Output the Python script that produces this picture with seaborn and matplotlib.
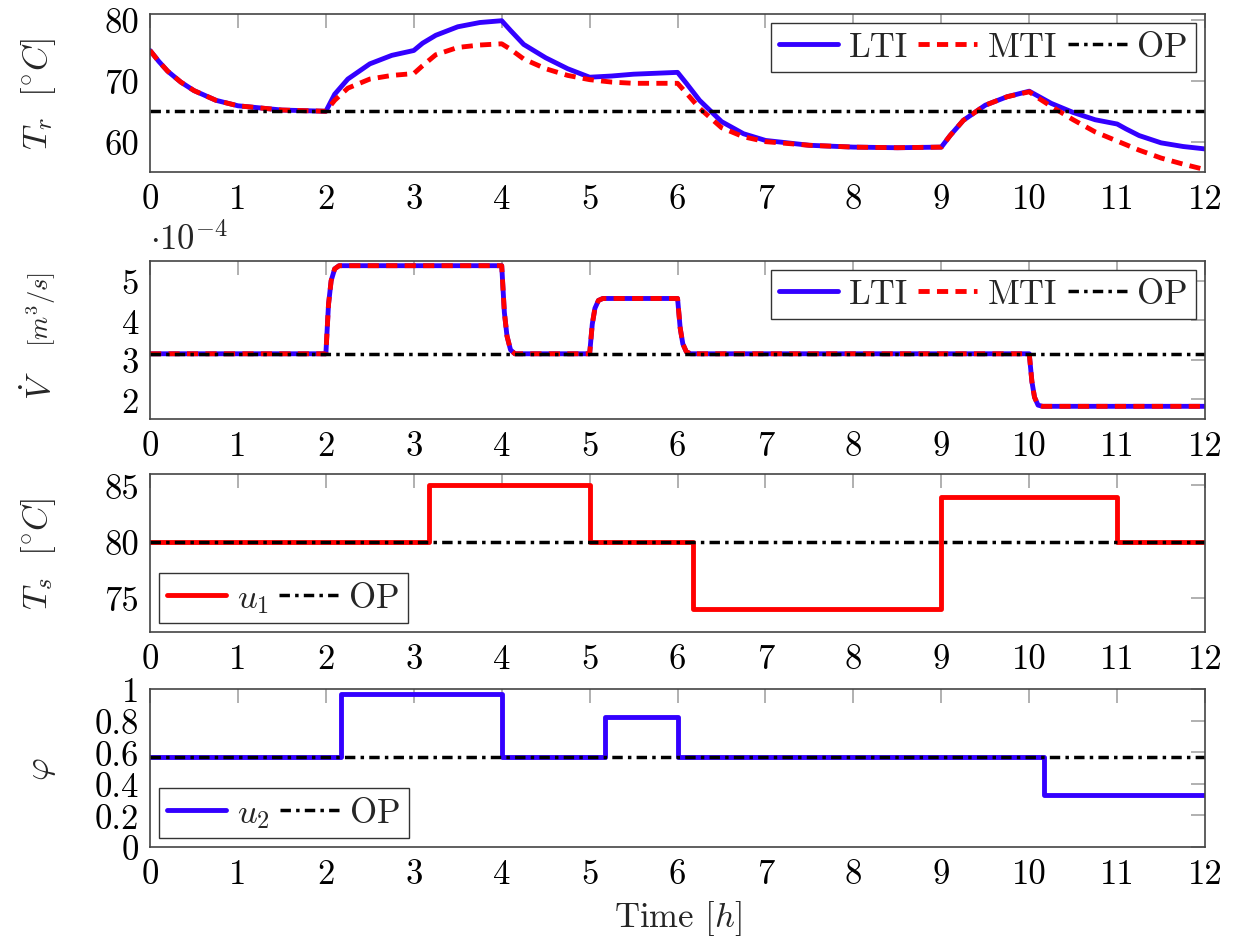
import numpy as np
import matplotlib
matplotlib.use('Agg')
import matplotlib.pyplot as plt
from matplotlib.ticker import FuncFormatter
import seaborn as sns

sns.set_style('white')
plt.rcParams['font.family'] = 'serif'
plt.rcParams['font.serif'] = ['cmr10', 'DejaVu Serif']
plt.rcParams['mathtext.fontset'] = 'cm'
plt.rcParams['axes.formatter.use_mathtext'] = True
plt.rcParams['font.size'] = 25

# Return temperature T_r [C]
t_r = [0, 0.1, 0.2, 0.35, 0.5, 0.75, 1, 1.5, 2, 2.1, 2.25, 2.5, 2.75, 3, 3.1, 3.25,
       3.5, 3.75, 4, 4.1, 4.25, 4.5, 4.75, 5, 5.25, 5.5, 6, 6.1, 6.25, 6.5, 6.75, 7,
       7.5, 8, 8.5, 9, 9.1, 9.25, 9.5, 9.75, 10, 10.1, 10.25, 10.5, 10.75, 11, 11.1,
       11.25, 11.5, 11.75, 12]
Tr_lti = [75, 73.2, 71.6, 69.8, 68.4, 66.8, 65.9, 65.2, 65.0, 67.8, 70.3, 72.8, 74.2,
          75.0, 76.2, 77.5, 78.9, 79.6, 79.9, 78.3, 76.0, 73.8, 72.0, 70.6, 70.8,
          71.1, 71.4, 69.6, 66.8, 63.3, 61.3, 60.2, 59.4, 59.1, 59.0, 59.1, 61.0,
          63.5, 66.0, 67.4, 68.3, 67.5, 66.3, 64.8, 63.6, 62.9, 62.1, 61.0, 59.8,
          59.2, 58.8]
Tr_mti = [75, 73.2, 71.6, 69.8, 68.4, 66.8, 65.9, 65.2, 65.0, 66.8, 68.8, 70.3, 70.9,
          71.2, 72.5, 74.3, 75.5, 75.9, 76.1, 75.2, 73.6, 72.0, 70.9, 70.2, 69.8,
          69.6, 69.6, 68.0, 65.5, 62.3, 60.8, 60.0, 59.4, 59.1, 59.0, 59.1, 61.0,
          63.5, 66.0, 67.4, 68.2, 67.2, 65.8, 63.6, 61.6, 60.1, 59.5, 58.6, 57.3,
          56.3, 55.4]
Tr_op = 65

# Volume flow V_dot [1e-4 m^3/s]
t_v = [0, 2, 2.03, 2.06, 2.1, 2.15, 4, 4.03, 4.06, 4.1, 4.15, 5, 5.03, 5.06, 5.1,
       5.15, 6, 6.03, 6.06, 6.1, 6.15, 10, 10.03, 10.06, 10.1, 10.15, 12]
V_lti = [3.15, 3.15, 4.4, 5.0, 5.3, 5.38, 5.38, 4.2, 3.6, 3.25, 3.15, 3.15, 3.9, 4.3,
         4.5, 4.55, 4.55, 3.8, 3.4, 3.2, 3.15, 3.15, 2.45, 2.05, 1.85, 1.82, 1.82]
V_mti = V_lti
V_op = 3.15

# Supply temperature u1 (steps)
t_u1 = [0, 3.17, 5, 6.17, 9, 11, 12]
u1 = [80, 85, 80, 74, 84, 80, 80]
Ts_op = 80

# Valve opening u2 (steps)
t_u2 = [0, 2.17, 4, 5.17, 6, 10.17, 12]
u2 = [0.57, 0.97, 0.57, 0.82, 0.57, 0.33, 0.33]
phi_op = 0.57

blue = '#3300ff'
red = '#ff0000'
op_ls = (0, (3, 1.5, 1, 1.5))
mti_ls = (0, (2.3, 1.5))

fig = plt.figure(figsize=(12.43, 9.45), dpi=100)
L, W, H = 0.1207, 0.8488, 0.1672
bottoms = [0.8169, 0.5556, 0.3302, 0.1026]
axs = [fig.add_axes([L, b, W, H]) for b in bottoms]


def op_line(ax, val):
    sns.lineplot(x=[0, 12], y=[val, val], ax=ax, color='black', linewidth=2.5,
                 linestyle=op_ls, label='OP', errorbar=None)


def style(ax, ylim, yticks, ylabel):
    ax.set_xlim(0, 12)
    ax.set_ylim(*ylim)
    ax.set_xticks(range(13))
    ax.set_yticks(yticks)
    ax.yaxis.set_major_formatter(FuncFormatter(lambda v, p: '%g' % v))
    ax.xaxis.set_major_formatter(FuncFormatter(lambda v, p: '%g' % v))
    ax.tick_params(direction='in', length=10, width=1.4, color='#b0b0b0',
                   top=True, right=True, labelcolor='black', pad=8)
    for s in ax.spines.values():
        s.set_color('#444444')
        s.set_linewidth(1.2)
    ax.set_ylabel(ylabel)
    ax.yaxis.set_label_coords(-0.087, 0.5)
    ax.set_xlabel('')


leg_kw = dict(frameon=True, fancybox=False, framealpha=1, edgecolor='#333333',
              handlelength=1.7, handletextpad=0.3, columnspacing=0.3,
              borderpad=0.25, borderaxespad=0.25)

# panel 1
ax = axs[0]
sns.lineplot(x=t_r, y=Tr_lti, ax=ax, color=blue, linewidth=3.5, label='LTI', errorbar=None)
sns.lineplot(x=t_r, y=Tr_mti, ax=ax, color=red, linewidth=3.5, linestyle=mti_ls,
             label='MTI', errorbar=None)
op_line(ax, Tr_op)
style(ax, (55, 81), [60, 70, 80], r'$T_r\ \ [^{\circ}C]$')
ax.legend(loc='upper right', ncol=3, **leg_kw)

# panel 2
ax = axs[1]
sns.lineplot(x=t_v, y=V_lti, ax=ax, color=blue, linewidth=3.5, label='LTI', errorbar=None)
sns.lineplot(x=t_v, y=V_mti, ax=ax, color=red, linewidth=3.5, linestyle=mti_ls,
             label='MTI', errorbar=None)
op_line(ax, V_op)
style(ax, (1.5, 5.5), [2, 3, 4, 5], '')
ax.text(-0.087, 0.22, r'$\dot{V}$', rotation=90, ha='right', va='center',
        transform=ax.transAxes)
ax.text(-0.087, 0.7, r'$[m^3/s]$', rotation=90, ha='right', va='center',
        fontsize=19, transform=ax.transAxes)
ax.legend(loc='upper right', ncol=3, **leg_kw)
ax.text(0, 1.03, r'$\cdot 10^{-4}$', transform=ax.transAxes, ha='left', va='bottom')

# panel 3
ax = axs[2]
sns.lineplot(x=t_u1, y=u1, ax=ax, color=red, linewidth=3.5, drawstyle='steps-post',
             label=r'$u_1$', errorbar=None)
op_line(ax, Ts_op)
style(ax, (72, 86), [75, 80, 85], r'$T_s\ \ [^{\circ}C]$')
ax.legend(loc='lower left', ncol=2, **leg_kw)

# panel 4
ax = axs[3]
sns.lineplot(x=t_u2, y=u2, ax=ax, color=blue, linewidth=3.5, drawstyle='steps-post',
             label=r'$u_2$', errorbar=None)
op_line(ax, phi_op)
style(ax, (0, 1), [0, 0.2, 0.4, 0.6, 0.8, 1], r'$\varphi$')
ax.legend(loc='lower left', ncol=2, **leg_kw)
ax.set_xlabel(r'Time $[h]$', labelpad=6)

fig.savefig('out.png', dpi=100)
